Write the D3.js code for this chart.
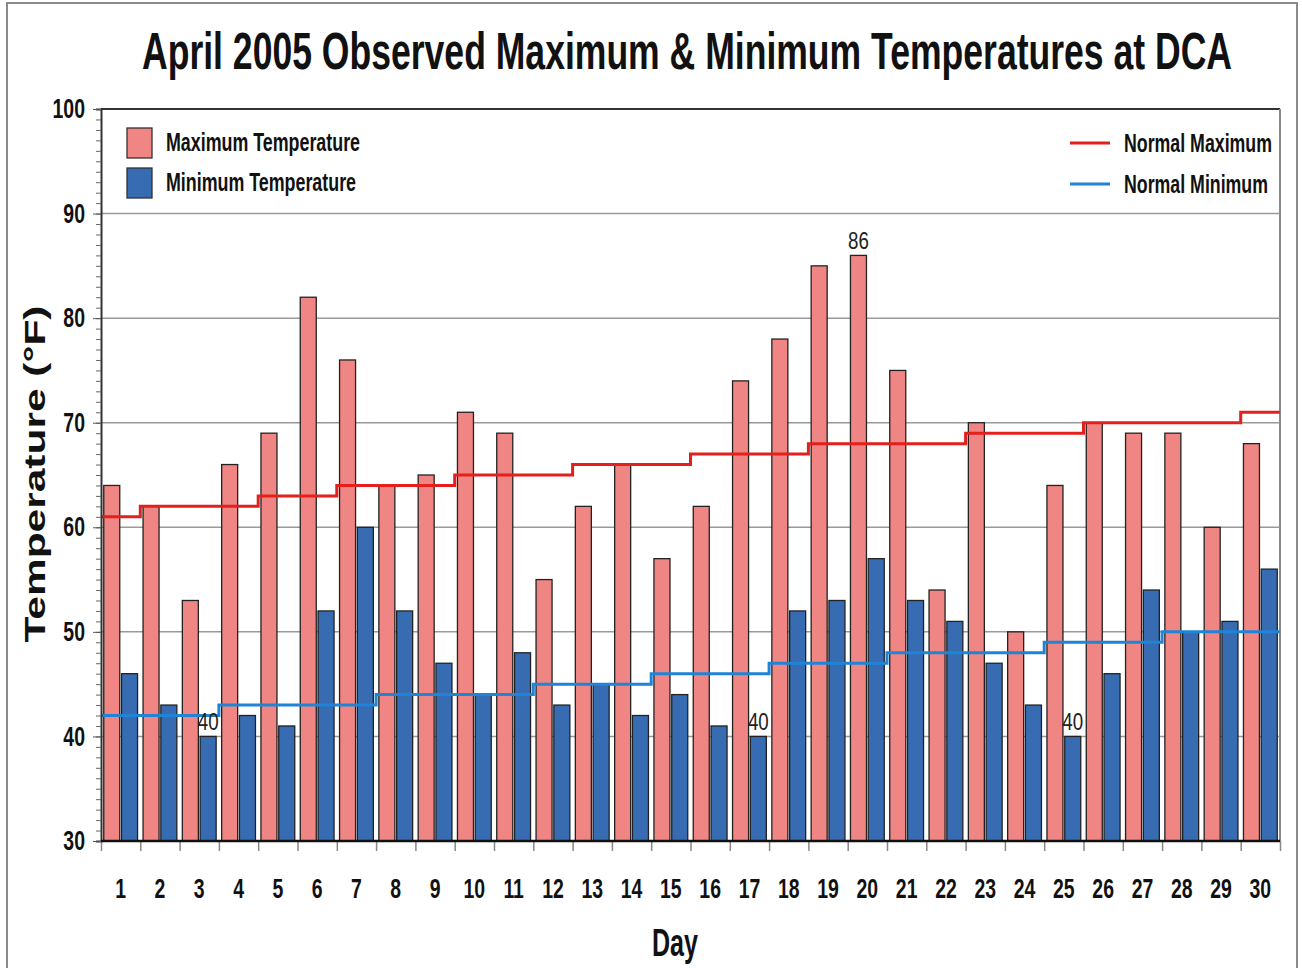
<!DOCTYPE html>
<html>
<head>
<meta charset="utf-8">
<script src="https://cdn.jsdelivr.net/npm/d3@7"></script>
<style>
  body { margin: 0; background: #fff; }
  svg text { font-family: "Liberation Sans", Arial, sans-serif; }
</style>
</head>
<body>
<div id="chart"></div>
<script>
const FRAME_WIDTH = 1302;
const FRAME_HEIGHT = 968;
const MARGINS = {left: 101, right: 22, top: 109, bottom: 127};

// data
const DAYS = d3.range(1, 31);
const MAX_TEMP = [64, 62, 53, 66, 69, 82, 76, 64, 65, 71, 69, 55, 62, 66, 57,
                  62, 74, 78, 85, 86, 75, 54, 70, 50, 64, 70, 69, 69, 60, 68];
const MIN_TEMP = [46, 43, 40, 42, 41, 52, 60, 52, 47, 44, 48, 43, 45, 42, 44,
                  41, 40, 52, 53, 57, 53, 51, 47, 43, 40, 46, 54, 50, 51, 56];
const NORMAL_MAX = [61, 62, 62, 62, 63, 63, 64, 64, 64, 65, 65, 65, 66, 66, 66,
                    67, 67, 67, 68, 68, 68, 68, 69, 69, 69, 70, 70, 70, 70, 71];
const NORMAL_MIN = [42, 42, 42, 43, 43, 43, 43, 44, 44, 44, 44, 45, 45, 45, 46,
                    46, 46, 47, 47, 47, 48, 48, 48, 48, 49, 49, 49, 50, 50, 50];
const Y_TICKS = [30, 40, 50, 60, 70, 80, 90, 100];
// labelled bars: [day, series, value]
const LABELS = [[3, "min", 40], [17, "min", 40], [25, "min", 40], [20, "max", 86]];

const VIS_WIDTH = FRAME_WIDTH - MARGINS.left - MARGINS.right;
const VIS_HEIGHT = FRAME_HEIGHT - MARGINS.top - MARGINS.bottom;

const MAX_COLOR = "#f08683";
const MIN_COLOR = "#376cb3";
const NMAX_COLOR = "#e41f1c";
const NMIN_COLOR = "#1f84d6";

// no narrow font installed, so squeeze text horizontally
function narrow(sel, factor) {
  sel.each(function () {
    const len = this.getComputedTextLength();
    d3.select(this).attr("textLength", len * factor).attr("lengthAdjust", "spacingAndGlyphs");
  });
}

const FRAME = d3.select("#chart")
  .append("svg")
    .attr("width", FRAME_WIDTH)
    .attr("height", FRAME_HEIGHT);

// outer frame
FRAME.append("rect")
  .attr("x", 7).attr("y", 3)
  .attr("width", 1290).attr("height", 980)
  .attr("fill", "none").attr("stroke", "#8a8a8a").attr("stroke-width", 2);

const X_SCALE = d3.scaleBand()
  .domain(DAYS)
  .range([MARGINS.left, MARGINS.left + VIS_WIDTH])
  .paddingInner(0.14).paddingOuter(0.07);
const X_SUB = d3.scaleBand()
  .domain(["max", "min"])
  .range([0, X_SCALE.bandwidth()])
  .paddingInner(0.1);
const X_EDGE = d3.scaleLinear()
  .domain([0, 30])
  .range([MARGINS.left, MARGINS.left + VIS_WIDTH]);
const Y_SCALE = d3.scaleLinear()
  .domain([30, 100])
  .range([MARGINS.top + VIS_HEIGHT, MARGINS.top]);

// gridlines
FRAME.append("g")
  .selectAll("line")
  .data(Y_TICKS.filter(d => d > 30 && d < 100))
  .enter().append("line")
    .attr("x1", MARGINS.left).attr("x2", MARGINS.left + VIS_WIDTH)
    .attr("y1", d => Y_SCALE(d)).attr("y2", d => Y_SCALE(d))
    .attr("stroke", "#9a9a9a").attr("stroke-width", 1.5);

// top and right border
FRAME.append("line")
  .attr("x1", MARGINS.left).attr("x2", MARGINS.left + VIS_WIDTH)
  .attr("y1", Y_SCALE(100)).attr("y2", Y_SCALE(100))
  .attr("stroke", "#333").attr("stroke-width", 2);
FRAME.append("line")
  .attr("x1", MARGINS.left + VIS_WIDTH).attr("x2", MARGINS.left + VIS_WIDTH)
  .attr("y1", Y_SCALE(100)).attr("y2", Y_SCALE(30))
  .attr("stroke", "#8a8a8a").attr("stroke-width", 2);

// bars
const rows = DAYS.map((d, i) => ({day: d, max: MAX_TEMP[i], min: MIN_TEMP[i]}));
const groups = FRAME.append("g")
  .selectAll("g")
  .data(rows)
  .enter().append("g")
    .attr("transform", d => "translate(" + X_SCALE(d.day) + ",0)");
groups.selectAll("rect")
  .data(d => [{key: "max", value: d.max}, {key: "min", value: d.min}])
  .enter().append("rect")
    .attr("x", d => X_SUB(d.key))
    .attr("y", d => Y_SCALE(d.value))
    .attr("width", X_SUB.bandwidth())
    .attr("height", d => Y_SCALE(30) - Y_SCALE(d.value))
    .attr("fill", d => d.key === "max" ? MAX_COLOR : MIN_COLOR)
    .attr("stroke", "#222")
    .attr("stroke-width", 1.3);

// normal step lines
function stepPoints(values) {
  const pts = values.map((v, i) => [X_EDGE(i), Y_SCALE(v)]);
  pts.push([X_EDGE(values.length), Y_SCALE(values[values.length - 1])]);
  return pts;
}
const stepLine = d3.line().curve(d3.curveStepAfter);
FRAME.append("path")
  .attr("d", stepLine(stepPoints(NORMAL_MAX)))
  .attr("fill", "none").attr("stroke", NMAX_COLOR).attr("stroke-width", 3);
FRAME.append("path")
  .attr("d", stepLine(stepPoints(NORMAL_MIN)))
  .attr("fill", "none").attr("stroke", NMIN_COLOR).attr("stroke-width", 3);

// value labels
FRAME.append("g")
  .selectAll("text")
  .data(LABELS)
  .enter().append("text")
    .attr("x", d => X_SCALE(d[0]) + X_SUB(d[1]) + X_SUB.bandwidth() / 2)
    .attr("y", d => Y_SCALE(d[2]) - 6)
    .attr("text-anchor", "middle")
    .attr("font-size", 24)
    .attr("fill", "#222")
    .text(d => d[2])
    .call(narrow, 0.78);

// y axis: minor then major ticks
FRAME.append("g")
  .attr("transform", "translate(" + MARGINS.left + ",0)")
  .call(d3.axisLeft(Y_SCALE).tickValues(d3.range(30, 101)).tickSize(5).tickFormat(""))
  .call(g => g.select(".domain").attr("stroke", "#333").attr("stroke-width", 2))
  .call(g => g.selectAll(".tick line").attr("stroke", "#666"));
FRAME.append("g")
  .attr("transform", "translate(" + MARGINS.left + ",0)")
  .call(d3.axisLeft(Y_SCALE).tickValues(Y_TICKS).tickSize(8).tickPadding(8))
  .call(g => g.select(".domain").remove())
  .call(g => g.selectAll(".tick line").attr("stroke", "#555"))
  .call(g => g.selectAll(".tick text")
    .attr("font-family", "'Liberation Sans', Arial, sans-serif")
    .attr("font-size", 27).attr("font-weight", "bold").attr("fill", "#111")
    .call(narrow, 0.72));

// x axis: boundary ticks + day labels
FRAME.append("g")
  .attr("transform", "translate(0," + Y_SCALE(30) + ")")
  .call(d3.axisBottom(X_EDGE).tickValues(d3.range(0, 31)).tickSize(10).tickFormat(""))
  .call(g => g.select(".domain").remove())
  .call(g => g.selectAll(".tick line").attr("stroke", "#888").attr("stroke-width", 1.5));
FRAME.append("line")
  .attr("x1", MARGINS.left).attr("x2", MARGINS.left + VIS_WIDTH)
  .attr("y1", Y_SCALE(30)).attr("y2", Y_SCALE(30))
  .attr("stroke", "#111").attr("stroke-width", 2.5);
FRAME.append("g")
  .attr("transform", "translate(0," + Y_SCALE(30) + ")")
  .call(d3.axisBottom(X_SCALE).tickSize(0).tickPadding(38))
  .call(g => g.select(".domain").remove())
  .call(g => g.selectAll(".tick text")
    .attr("font-family", "'Liberation Sans', Arial, sans-serif")
    .attr("font-size", 27).attr("font-weight", "bold").attr("fill", "#111")
    .call(narrow, 0.72));

// title
FRAME.append("text")
  .attr("x", 687).attr("y", 69)
  .attr("text-anchor", "middle")
  .attr("font-size", 52).attr("font-weight", "bold").attr("fill", "#111")
  .text("April 2005 Observed Maximum & Minimum Temperatures at DCA")
  .call(sel => sel.attr("textLength", 1090).attr("lengthAdjust", "spacingAndGlyphs"));

// axis titles
FRAME.append("text")
  .attr("x", 675).attr("y", 956)
  .attr("text-anchor", "middle")
  .attr("font-size", 38).attr("font-weight", "bold").attr("fill", "#111")
  .text("Day")
  .call(narrow, 0.66);
FRAME.append("text")
  .attr("transform", "translate(45,474) rotate(-90)")
  .attr("text-anchor", "middle")
  .attr("font-size", 29).attr("font-weight", "bold").attr("fill", "#111")
  .text("Temperature (°F)")
  .call(sel => sel.attr("textLength", 337).attr("lengthAdjust", "spacingAndGlyphs"));

// legend left (bars)
const LEG_BARS = [["Maximum Temperature", MAX_COLOR, 194], ["Minimum Temperature", MIN_COLOR, 190]];
const legL = FRAME.append("g").selectAll("g")
  .data(LEG_BARS).enter().append("g")
    .attr("transform", (d, i) => "translate(127," + (128 + i * 40) + ")");
legL.append("rect")
  .attr("width", 25).attr("height", 30)
  .attr("fill", d => d[1]).attr("stroke", "#333").attr("stroke-width", 1.3);
legL.append("text")
  .attr("x", 39).attr("y", 23)
  .attr("font-size", 25).attr("font-weight", "bold").attr("fill", "#111")
  .attr("textLength", d => d[2]).attr("lengthAdjust", "spacingAndGlyphs")
  .text(d => d[0]);

// legend right (lines)
const LEG_LINES = [["Normal Maximum", NMAX_COLOR, 148], ["Normal Minimum", NMIN_COLOR, 144]];
const legR = FRAME.append("g").selectAll("g")
  .data(LEG_LINES).enter().append("g")
    .attr("transform", (d, i) => "translate(1070," + (143 + i * 41) + ")");
legR.append("line")
  .attr("x1", 0).attr("x2", 40)
  .attr("stroke", d => d[1]).attr("stroke-width", 3);
legR.append("text")
  .attr("x", 54).attr("y", 9)
  .attr("font-size", 25).attr("font-weight", "bold").attr("fill", "#111")
  .attr("textLength", d => d[2]).attr("lengthAdjust", "spacingAndGlyphs")
  .text(d => d[0]);
</script>
</body>
</html>
